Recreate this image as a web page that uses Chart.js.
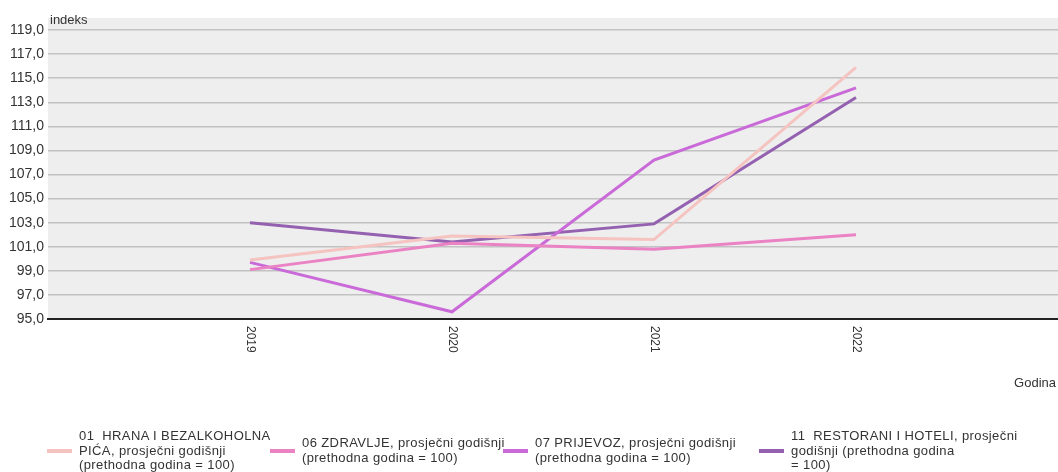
<!DOCTYPE html>
<html>
<head>
<meta charset="utf-8">
<script src="https://cdn.jsdelivr.net/npm/chart.js@4.4.1/dist/chart.umd.min.js"></script>
<style>
  body { margin: 0; background: #fff; font-family: "Liberation Sans", Arial, sans-serif; }
  #wrap { position: relative; width: 1058px; height: 472px; }
  #legend { position: absolute; left: 47px; top: 429px; display: flex; align-items: center; }
  .item { display: flex; align-items: center; }
  .sw { width: 25px; height: 4px; margin-right: 7px; flex: none; }
  .txt { font-size: 13px; letter-spacing: 0.4px; color: #333; line-height: 14.5px; white-space: pre; }
</style>
</head>
<body>
<div id="wrap">
  <canvas id="grafico" width="1058" height="472"></canvas>
  <div id="legend"></div>
</div>
<script>
const godine = [2019, 2020, 2021, 2022];
const yTicks = [95, 97, 99, 101, 103, 105, 107, 109, 111, 113, 115, 117, 119];

const nazivi = [
  '01  HRANA I BEZALKOHOLNA\nPIĆA, prosječni godišnji\n(prethodna godina = 100)',
  '06 ZDRAVLJE, prosječni godišnji\n(prethodna godina = 100)',
  '07 PRIJEVOZ, prosječni godišnji\n(prethodna godina = 100)',
  '11  RESTORANI I HOTELI, prosječni\ngodišnji (prethodna godina\n= 100)'
];
const hrana = [99.9, 101.9, 101.6, 115.9];
const zdravlje = [99.1, 101.3, 100.8, 102.0];
const prijevoz = [99.7, 95.6, 108.2, 114.2];
const restorani = [103.0, 101.4, 102.9, 113.4];

const boje = ['#f5c3c0', '#ea82c4', '#c96ad8', '#9460b0'];
const sirine = [223, 233, 256, 260];

const serije = [hrana, zdravlje, prijevoz, restorani];

const pozadina = {
  id: 'pozadina',
  beforeDraw(chart) {
    const { ctx, chartArea: a } = chart;
    ctx.save();
    ctx.fillStyle = '#eeeeee';
    ctx.fillRect(a.left, a.top, a.right - a.left, a.bottom - a.top);
    ctx.restore();
  },
  afterDraw(chart) {
    const { ctx, chartArea: a } = chart;
    const x = chart.scales.x;
    ctx.save();
    ctx.fillStyle = '#333';
    ctx.font = '12px "Liberation Sans", Arial, sans-serif';
    godine.forEach(g => {
      const px = x.getPixelForValue(g);
      ctx.save();
      ctx.translate(px, a.bottom + 7);
      ctx.rotate(Math.PI / 2);
      ctx.textAlign = 'left';
      ctx.textBaseline = 'middle';
      ctx.fillText(String(g), 0, 0);
      ctx.restore();
    });
    ctx.font = '13px "Liberation Sans", Arial, sans-serif';
    ctx.textBaseline = 'middle';
    ctx.textAlign = 'left';
    ctx.fillText('indeks', a.left + 2, 20);
    ctx.textAlign = 'right';
    ctx.fillText('Godina', 1056, 383);
    ctx.restore();
  }
};

const ctx = document.getElementById('grafico').getContext('2d');
const chart = new Chart(ctx, {
  type: 'line',
  data: {
    datasets: serije.map((s, i) => ({
      label: nazivi[i],
      data: s.map((v, j) => ({ x: godine[j], y: v })),
      borderColor: boje[i],
      backgroundColor: boje[i],
      borderWidth: 3,
      pointRadius: 0,
      tension: 0,
      fill: false
    }))
  },
  options: {
    responsive: false,
    animation: false,
    layout: { padding: { top: 18, right: 0, left: 0, bottom: 0 } },
    plugins: { legend: { display: false }, tooltip: { enabled: false } },
    scales: {
      x: {
        type: 'linear',
        min: 2018,
        max: 2023,
        ticks: { display: false },
        grid: { display: false },
        border: { display: true, color: '#222', width: 2 },
        afterFit(scale) { scale.height = 472 - 319; }
      },
      y: {
        min: 95,
        max: 120,
        afterBuildTicks(scale) { scale.ticks = yTicks.map(v => ({ value: v })); },
        afterFit(scale) { scale.width = 48; },
        ticks: {
          color: '#333',
          padding: 4,
          font: { size: 14, family: '"Liberation Sans", Arial, sans-serif' },
          callback: v => v.toFixed(1).replace('.', ',')
        },
        grid: { color: '#c2c2c2', lineWidth: 1.5, drawTicks: false },
        border: { display: false }
      }
    }
  },
  plugins: [pozadina]
});

const legenda = document.getElementById('legend');
chart.data.datasets.forEach((ds, i) => {
  const item = document.createElement('div');
  item.className = 'item';
  item.style.width = sirine[i] + 'px';
  const sw = document.createElement('div');
  sw.className = 'sw';
  sw.style.background = ds.borderColor;
  const txt = document.createElement('div');
  txt.className = 'txt';
  txt.textContent = ds.label;
  item.appendChild(sw);
  item.appendChild(txt);
  legenda.appendChild(item);
});
</script>
</body>
</html>
